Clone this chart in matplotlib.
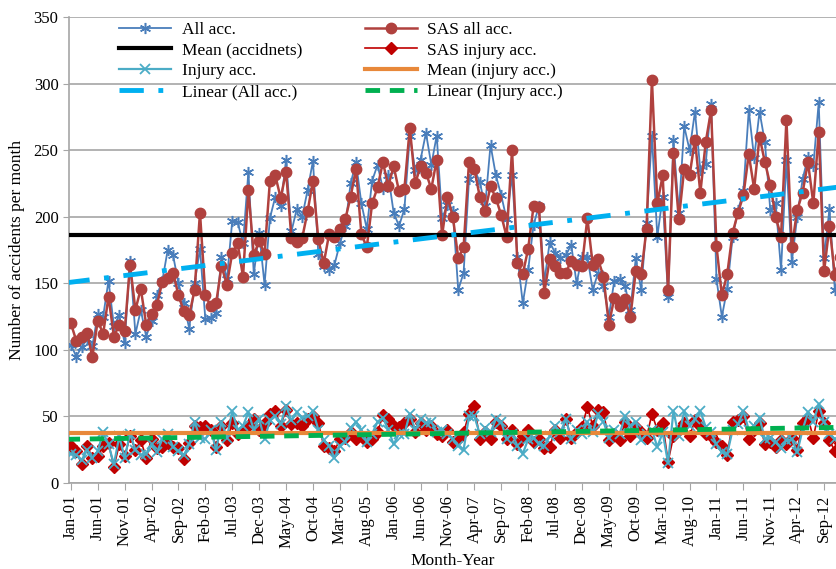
import numpy as np
import matplotlib
matplotlib.use("Agg")
import matplotlib.pyplot as plt

plt.rcParams["font.family"] = ["Liberation Serif", "DejaVu Serif"]

# monthly values Jan-01 .. Dec-12
all_acc = [104, 95, 102, 108, 103, 127, 125, 152, 118, 126,
           105, 167, 112, 130, 110, 122, 141, 152, 175, 171,
           150, 135, 116, 150, 176, 123, 124, 128, 170, 153,
           197, 196, 180, 234, 157, 188, 149, 199, 215, 208,
           243, 189, 206, 200, 220, 242, 172, 163, 160, 164,
           180, 193, 225, 241, 210, 191, 227, 239, 221, 231,
           203, 193, 206, 261, 235, 243, 263, 239, 261, 199,
           209, 204, 145, 158, 228, 236, 226, 208, 254, 231,
           216, 198, 231, 170, 135, 160, 194, 208, 151, 181,
           173, 169, 171, 179, 150, 170, 170, 145, 158, 148,
           125, 152, 153, 148, 130, 169, 145, 195, 261, 185,
           215, 140, 258, 203, 268, 250, 279, 235, 240, 285,
           153, 125, 146, 185, 205, 219, 280, 244, 279, 256,
           205, 210, 160, 243, 166, 200, 228, 245, 238, 286,
           169, 206, 145, 160]

sas_all = [120, 107, 110, 113, 95, 122, 112, 140, 110, 119,
           114, 164, 130, 146, 119, 127, 134, 151, 154, 158,
           141, 129, 126, 145, 203, 141, 133, 135, 163, 149,
           173, 180, 155, 220, 171, 182, 172, 227, 231, 214,
           234, 184, 181, 184, 204, 227, 183, 165, 187, 185,
           191, 198, 215, 236, 187, 177, 210, 222, 241, 223,
           238, 219, 221, 267, 225, 238, 233, 221, 243, 186,
           215, 200, 169, 177, 241, 236, 215, 204, 223, 214,
           201, 185, 250, 165, 157, 176, 208, 207, 143, 168,
           163, 158, 158, 167, 164, 163, 199, 164, 168, 155,
           119, 139, 133, 138, 125, 159, 157, 191, 303, 210,
           231, 145, 248, 198, 236, 231, 258, 218, 256, 280,
           178, 141, 157, 188, 203, 216, 247, 221, 260, 241,
           224, 200, 185, 273, 177, 205, 218, 241, 210, 264,
           159, 193, 156, 170]

injury_acc = [22, 21, 17, 25, 19, 24, 38, 29, 14, 35,
              19, 37, 25, 21, 22, 29, 23, 33, 37, 27,
              24, 21, 29, 46, 34, 33, 40, 25, 46, 34,
              54, 40, 43, 53, 40, 48, 33, 47, 50, 44,
              58, 47, 53, 49, 50, 54, 40, 32, 28, 19,
              28, 31, 41, 46, 40, 31, 37, 46, 49, 40,
              29, 37, 37, 52, 40, 48, 45, 46, 38, 40,
              37, 33, 28, 25, 50, 50, 37, 41, 38, 48,
              46, 33, 37, 28, 22, 33, 34, 29, 28, 35,
              43, 38, 48, 33, 40, 37, 46, 38, 52, 46,
              34, 40, 37, 50, 43, 46, 32, 37, 40, 27,
              38, 15, 54, 35, 54, 43, 48, 54, 42, 38,
              29, 23, 22, 40, 44, 54, 40, 43, 49, 33,
              34, 31, 26, 32, 33, 23, 40, 53, 46, 59,
              46, 37, 33, 35]

sas_injury = [28, 24, 14, 28, 19, 20, 28, 30, 12, 29,
              20, 35, 25, 32, 19, 33, 26, 27, 30, 27,
              26, 18, 30, 43, 42, 43, 40, 27, 43, 32,
              45, 37, 38, 43, 48, 40, 45, 52, 54, 43,
              55, 44, 45, 43, 48, 50, 45, 28, 26, 24,
              33, 34, 38, 33, 35, 31, 33, 38, 51, 48,
              43, 42, 45, 48, 38, 45, 40, 43, 37, 35,
              40, 31, 33, 38, 52, 58, 33, 38, 33, 46,
              43, 33, 40, 29, 35, 40, 31, 33, 26, 27,
              40, 34, 48, 34, 38, 42, 57, 43, 55, 53,
              32, 37, 32, 46, 35, 42, 38, 34, 52, 40,
              45, 16, 35, 40, 45, 35, 47, 43, 37, 35,
              31, 28, 21, 46, 47, 50, 33, 40, 45, 29,
              31, 27, 32, 29, 34, 25, 45, 49, 34, 54,
              45, 32, 24, 30]

months = ["Jan", "Feb", "Mar", "Apr", "May", "Jun",
          "Jul", "Aug", "Sep", "Oct", "Nov", "Dec"]
labels = [f"{months[k % 12]}-{k // 12 + 1:02d}" for k in range(len(all_acc))]

x = np.arange(len(all_acc))
mean_all = np.mean(all_acc)
mean_inj = np.mean(injury_acc)
fit_all = np.polyfit(x, all_acc, 1)
fit_inj = np.polyfit(x, injury_acc, 1)
xt = np.array([-1, len(x)])

fig = plt.figure(figsize=(8.37, 5.69), dpi=100)
ax = fig.add_axes([0.0824, 0.1511, 0.9176, 0.8189])

grid_c = "#a6a6a6"
ax.set_axisbelow(True)
ax.yaxis.grid(True, color=grid_c, lw=1.2)

h_all, = ax.plot(x, all_acc, color="#4a7ebb", lw=1.3, marker=(6, 2, 0),
                 ms=8, mew=1.1, label="All acc.", zorder=3)
h_sas, = ax.plot(x, sas_all, color="#b0413e", lw=1.8, marker="o",
                 ms=7.5, label="SAS all acc.", zorder=4)
h_mean, = ax.plot(xt, [mean_all] * 2, color="black", lw=3,
                  label="Mean (accidnets)", zorder=5)
h_inj, = ax.plot(x, injury_acc, color="#4bacc6", lw=1.6, marker="x",
                 ms=7, mew=1.3, label="Injury acc.", zorder=4)
h_sinj, = ax.plot(x, sas_injury, color="#c00000", lw=1.2, marker="D",
                  ms=6, label="SAS injury acc.", zorder=3)
h_minj, = ax.plot(xt, [mean_inj] * 2, color="#e8883a", lw=3,
                  label="Mean (injury acc.)", zorder=5)
h_lin, = ax.plot(xt, np.polyval(fit_all, xt), color="#00b0f0", lw=3.5,
                 dashes=(5, 3, 1, 3), label="Linear (All acc.)", zorder=5)
h_linj, = ax.plot(xt, np.polyval(fit_inj, xt), color="#00b050", lw=3.5,
                  dashes=(3, 2), label="Linear (Injury acc.)", zorder=5)

ax.set_ylim(0, 350)
ax.set_yticks(range(0, 351, 50))
ax.set_xlim(-0.35, 142.4)
ax.set_xticks(x[::5])
ax.set_xticklabels(labels[::5], rotation=90, fontsize=12)
ax.tick_params(axis="y", labelsize=12, color=grid_c, length=4)
ax.tick_params(axis="x", color=grid_c, length=5)

for s in ["top", "right"]:
    ax.spines[s].set_visible(False)
for s in ["left", "bottom"]:
    ax.spines[s].set_color(grid_c)
    ax.spines[s].set_linewidth(1.2)

ax.set_ylabel("Number of accidents per month", fontsize=12.5, labelpad=6)
ax.set_xlabel("Month-Year", fontsize=12.5, labelpad=4)

handles = [h_all, h_mean, h_inj, h_lin, h_sas, h_sinj, h_minj, h_linj]
ax.legend(handles=handles, ncol=2, frameon=False, fontsize=12.5,
          loc="upper left", bbox_to_anchor=(0.045, 1.024),
          handlelength=3.0, columnspacing=3.6, labelspacing=0.27,
          handletextpad=0.6)

fig.savefig("out.png", dpi=100)
